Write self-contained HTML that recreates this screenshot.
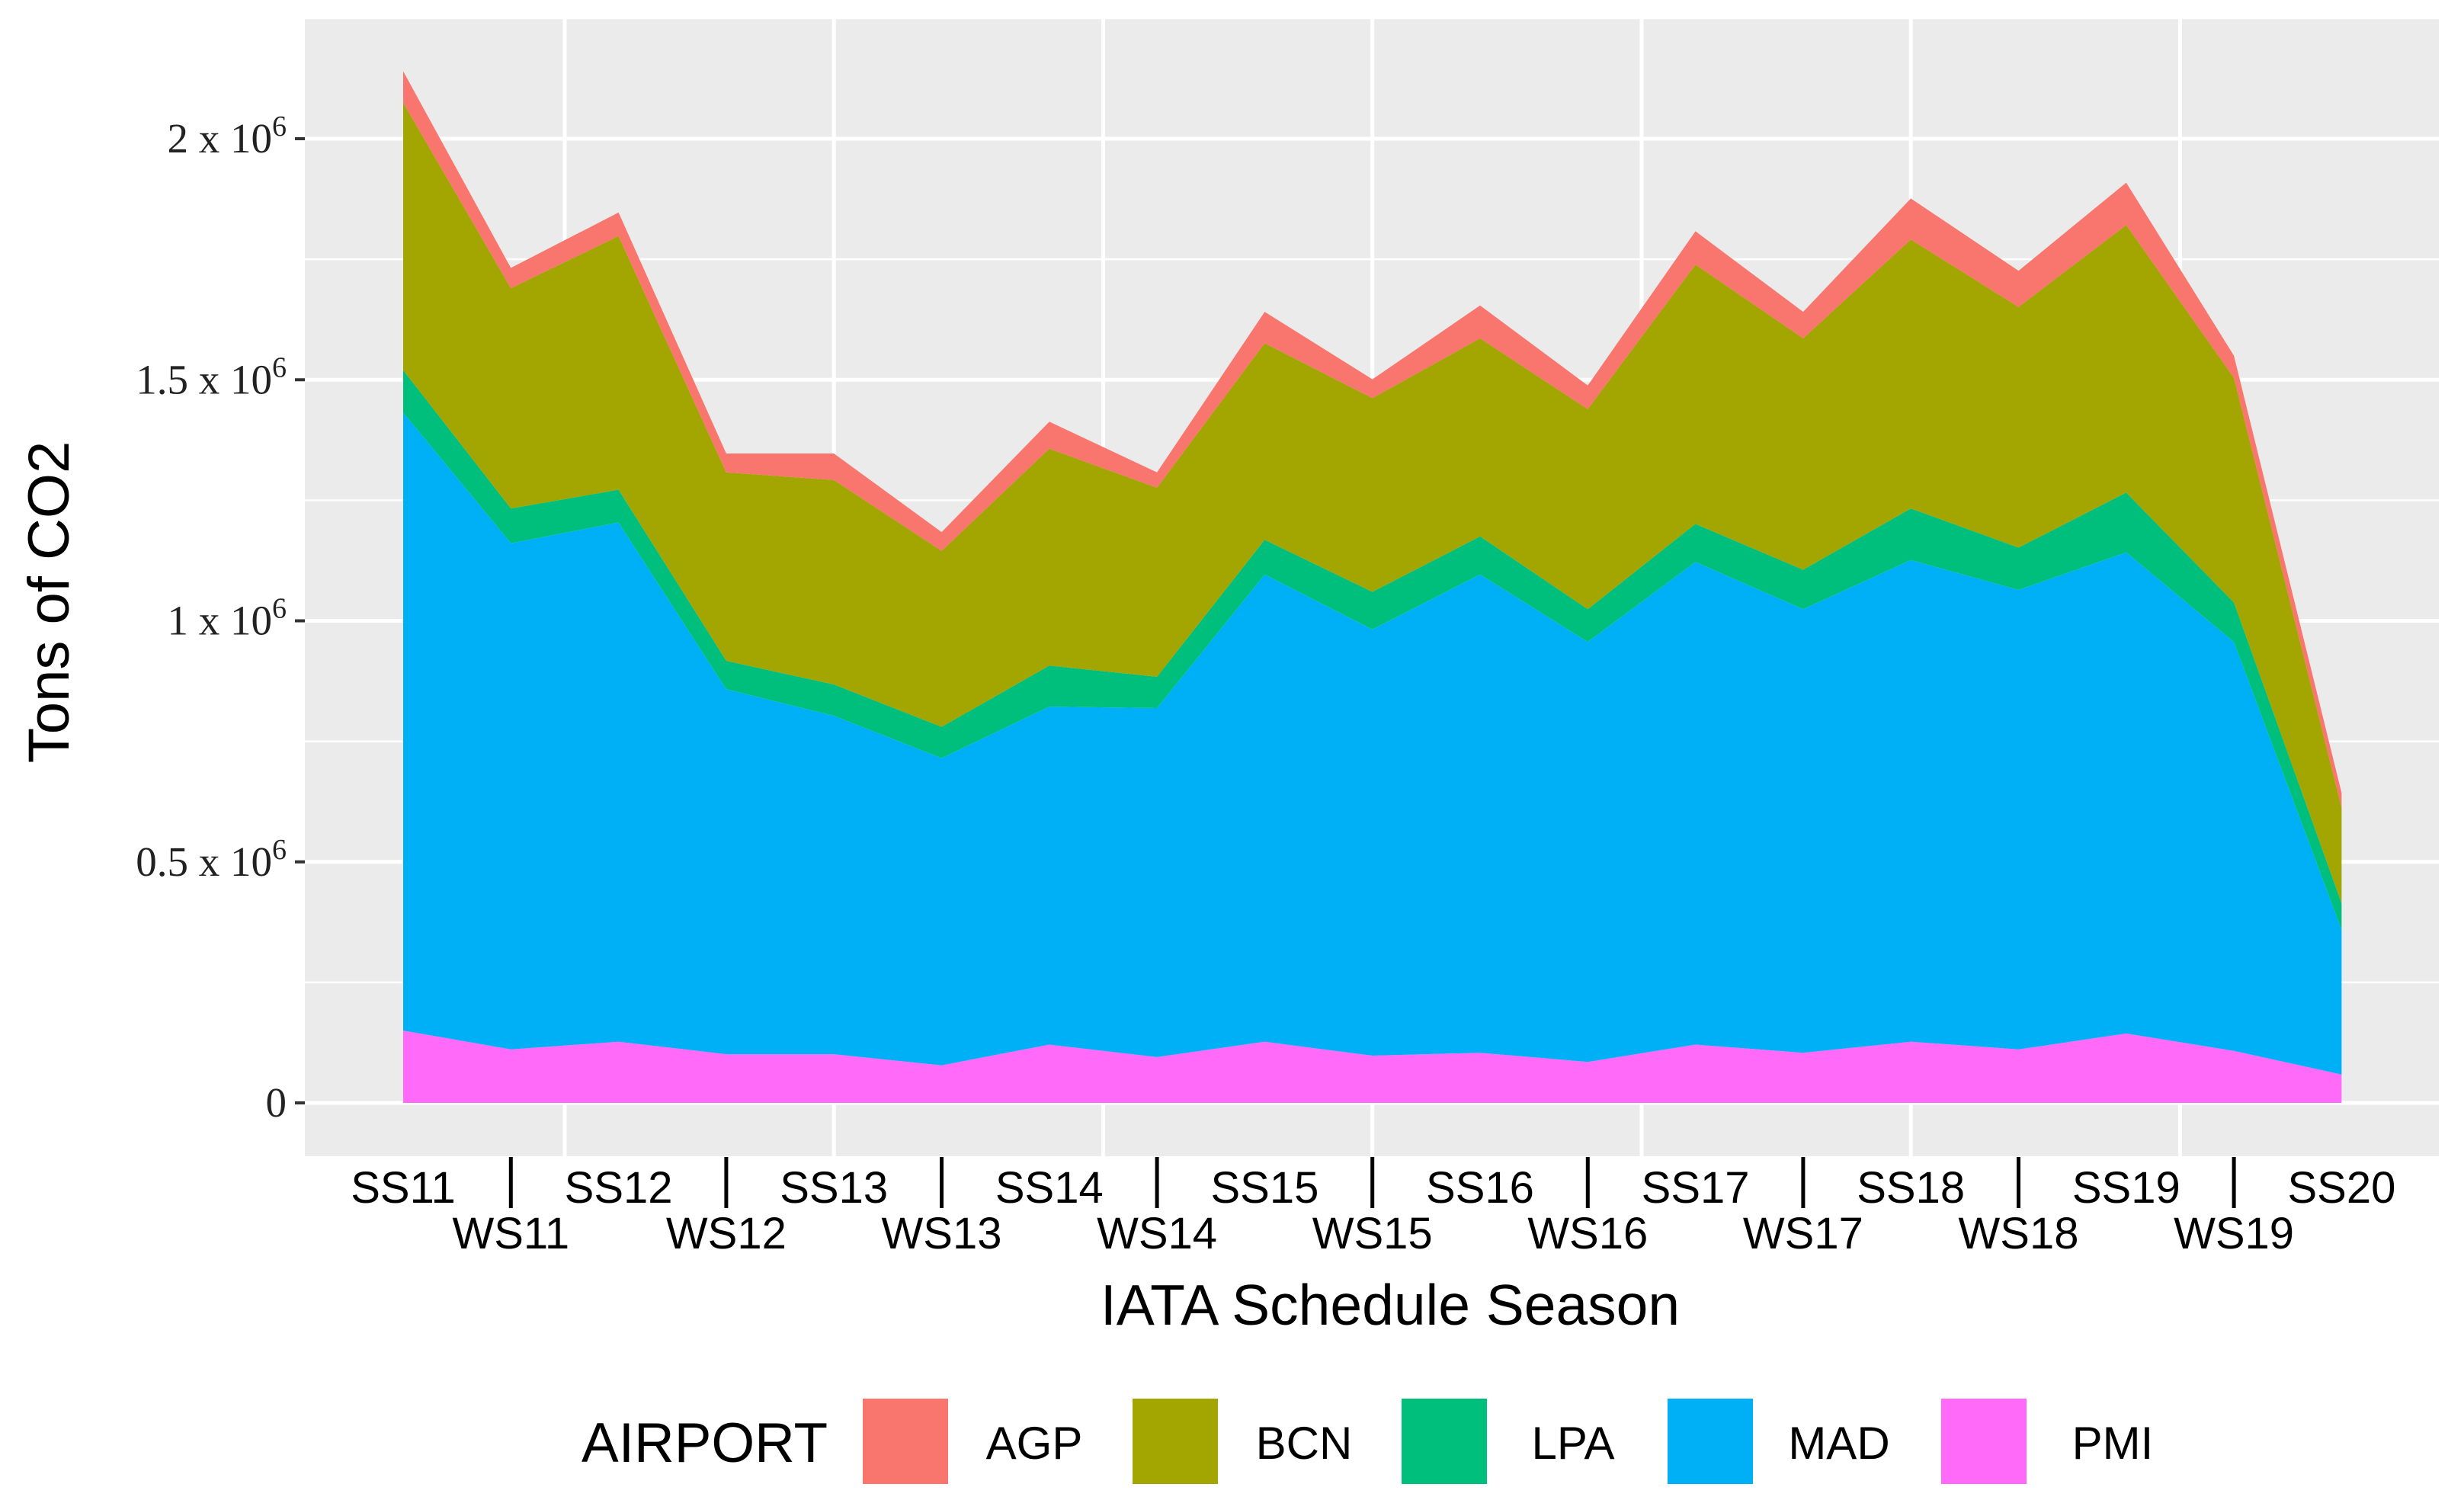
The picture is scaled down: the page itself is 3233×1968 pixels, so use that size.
<!DOCTYPE html>
<html><head><meta charset="utf-8">
<style>
html,body{margin:0;padding:0;background:#fff;}
svg{display:block;}
</style></head>
<body>
<svg id="chart" width="3233" height="1968" xmlns="http://www.w3.org/2000/svg">
<rect x="400" y="25" width="2800" height="1492" fill="#EBEBEB"/>
<g id="grid"></g>
<g id="areas"></g>
<g id="axes"></g>
<text x="1824" y="1738" font-family="Liberation Sans, sans-serif" font-size="75" text-anchor="middle" fill="#000">IATA Schedule Season</text>
<text transform="translate(90,790) rotate(-90)" font-family="Liberation Sans, sans-serif" font-size="76" text-anchor="middle" fill="#000">Tons of CO2</text>
<g id="legend"></g>
</svg>
<script>
const categories = ["SS11","WS11","SS12","WS12","SS13","WS13","SS14","WS14","SS15","WS15","SS16","WS16","SS17","WS17","SS18","WS18","SS19","WS19","SS20"];
// values in millions of tons
const pmi = [0.150,0.111,0.127,0.101,0.101,0.078,0.121,0.095,0.127,0.098,0.104,0.085,0.121,0.104,0.127,0.111,0.144,0.108,0.059];
const mad = [1.282,1.050,1.077,0.757,0.702,0.637,0.701,0.724,0.969,0.884,0.992,0.871,1.001,0.920,0.999,0.953,0.998,0.848,0.300];
const lpa = [0.088,0.072,0.068,0.059,0.065,0.065,0.085,0.065,0.072,0.078,0.079,0.068,0.079,0.082,0.107,0.088,0.124,0.082,0.055];
const bcn = [0.555,0.457,0.526,0.391,0.424,0.365,0.450,0.392,0.408,0.402,0.411,0.415,0.538,0.480,0.558,0.499,0.555,0.466,0.198];
const agp = [0.065,0.042,0.049,0.039,0.055,0.039,0.056,0.032,0.065,0.039,0.068,0.049,0.069,0.055,0.085,0.075,0.088,0.046,0.031];
const yTicks = [0,0.5,1,1.5,2];
const yTickLabels = ["0","0.5 x 10","1 x 10","1.5 x 10","2 x 10"];

const NS="http://www.w3.org/2000/svg";
const x0=529, step=141.3, yZero=1447, yPerM=632.5;
const xs=i=>x0+i*step;
const ys=v=>yZero-v*yPerM;
function mk(tag,attrs,parent){const e=document.createElementNS(NS,tag);for(const k in attrs)e.setAttribute(k,attrs[k]);parent.appendChild(e);return e;}

const grid=document.getElementById('grid');
for(let k=0;k<yTicks.length;k++){
  const v=yTicks[k]+0.25;
  const l=mk('line',{x1:400,x2:3200,y1:ys(v),y2:ys(v),stroke:'#fff','stroke-width':2.5},grid);
  
  
}
yTicks.forEach(v=>{
  const l=mk('line',{x1:400,x2:3200,y1:ys(v),y2:ys(v),stroke:'#fff','stroke-width':5},grid);
  
  
});
[1.5,4,6.5,9,11.5,14,16.5].forEach(i=>{
  const l=mk('line',{x1:xs(i),x2:xs(i),y1:25,y2:1517,stroke:'#fff','stroke-width':5},grid);
  
  
});

const series=[["pmi",pmi,"#FF6AF8"],["mad",mad,"#00B0F6"],["lpa",lpa,"#00BF7D"],["bcn",bcn,"#A3A500"],["agp",agp,"#F8766D"]];
const areas=document.getElementById('areas');
let base=categories.map(()=>0);
series.forEach(([name,vals,col])=>{
  const top=vals.map((v,i)=>base[i]+v);
  let d='';
  top.forEach((v,i)=>{d+=(i?'L':'M')+xs(i).toFixed(1)+','+ys(v).toFixed(1);});
  for(let i=categories.length-1;i>=0;i--)d+='L'+xs(i).toFixed(1)+','+ys(base[i]).toFixed(1);
  d+='Z';
  const p=mk('path',{d:d,fill:col},areas);
  
  
  base=top;
});

const axes=document.getElementById('axes');
yTicks.forEach((v,k)=>{
  const t=mk('line',{x1:387,x2:400,y1:ys(v),y2:ys(v),stroke:'#333','stroke-width':4},axes);
  
  
  const tx=mk('text',{x:376,y:ys(v)+18,'font-family':'Liberation Serif, serif','font-size':55,'text-anchor':'end',fill:'#222'},axes);
  
  
  tx.textContent=yTickLabels[k];
  if(v!==0){const s=mk('tspan',{dy:-22,'font-size':38},tx);s.textContent='6';}
});
categories.forEach((c,i)=>{
  const ss=i%2===0;
  const tx=mk('text',{x:xs(i),y:ss?1578:1638,'font-family':'Liberation Sans, sans-serif','font-size':58,'text-anchor':'middle',fill:'#000'},axes);
  
  
  tx.textContent=c;
  if(!ss){
    const t=mk('line',{x1:xs(i),x2:xs(i),y1:1518,y2:1585,stroke:'#000','stroke-width':5},axes);
    
    
  }
});

const legend=document.getElementById('legend');
const lt=mk('text',{x:763,y:1918,'font-family':'Liberation Sans, sans-serif','font-size':73,fill:'#000'},legend);


lt.textContent='AIRPORT';
const legNames=["AGP","BCN","LPA","MAD","PMI"];
const legCols=["#F8766D","#A3A500","#00BF7D","#00B0F6","#FF6AF8"];
const legX=[1132,1486,1839,2188,2547];
legNames.forEach((n,k)=>{
  const r=mk('rect',{x:legX[k],y:1835,width:112,height:112,fill:legCols[k]},legend);
  
  
  const t=mk('text',{x:legX[k]+225,y:1914,'font-family':'Liberation Sans, sans-serif','font-size':60,'text-anchor':'middle',fill:'#000'},legend);
  
  
  t.textContent=n;
});
</script>
</body></html>
